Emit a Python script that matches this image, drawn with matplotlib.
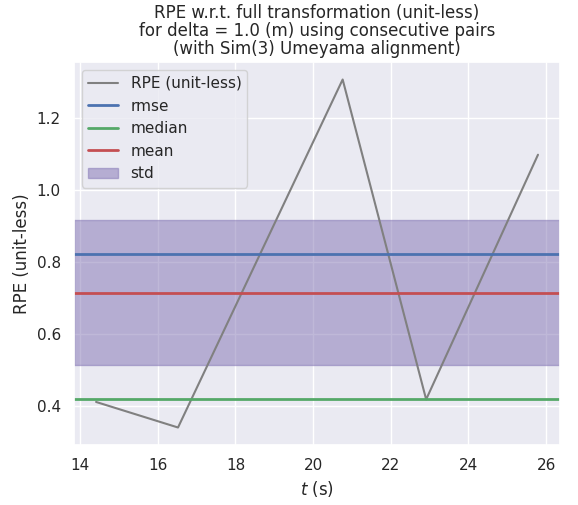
import matplotlib
matplotlib.use("Agg")
import matplotlib.pyplot as plt
import numpy as np
import seaborn as sns

sns.set_theme(style="darkgrid")

# RPE values
t = [14.41, 16.52, 20.76, 22.91, 25.79]
rpe = [0.411, 0.340, 1.307, 0.418, 1.098]

err = np.array(rpe)
rmse = np.sqrt(np.mean(err ** 2))
median = np.median(err)
mean = np.mean(err)
std = np.std(err)

fig, ax = plt.subplots(figsize=(5.78, 5.05), dpi=100)
ax.plot(t, rpe, color="gray", lw=1.5, label="RPE (unit-less)")
ax.axhline(rmse, color="C0", lw=2, label="rmse")
ax.axhline(median, color="C2", lw=2, label="median")
ax.axhline(mean, color="C3", lw=2, label="mean")
ax.axhspan(mean - std / 2, mean + std / 2, color="C4", alpha=0.5, label="std")

ax.set_title("RPE w.r.t. full transformation (unit-less)\n"
             "for delta = 1.0 (m) using consecutive pairs\n"
             "(with Sim(3) Umeyama alignment)", linespacing=1.0)
ax.set_xlabel("$t$ (s)")
ax.set_ylabel("RPE (unit-less)")
ax.legend(loc="upper left")

plt.subplots_adjust(left=0.128, right=0.969, top=0.877, bottom=0.119)
plt.savefig("out.png")
